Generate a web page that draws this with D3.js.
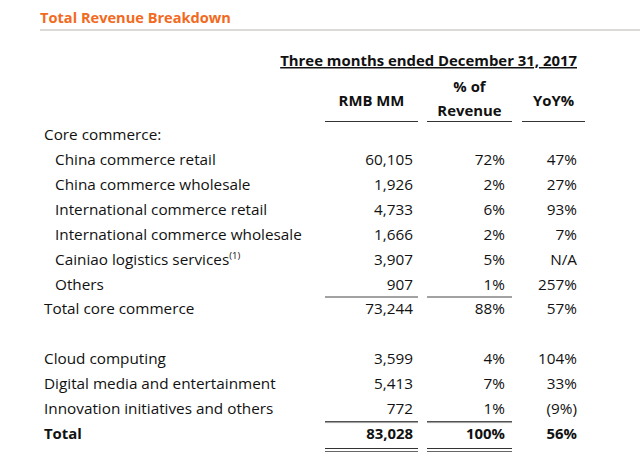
<!DOCTYPE html>
<html><head><meta charset="utf-8">
<script src="https://cdn.jsdelivr.net/npm/d3@7"></script>
<style>
html,body{margin:0;padding:0;background:#fff;}
svg{display:block;}
text{font-family:"Open Sans",Lato,sans-serif;fill:#111;}
</style></head>
<body>
<script>
const title = "Total Revenue Breakdown";
const periodLabel = "Three months ended December 31, 2017";
const rowLabels = ["Core commerce:","China commerce retail","China commerce wholesale","International commerce retail","International commerce wholesale","Cainiao logistics services","Others","Total core commerce","","Cloud computing","Digital media and entertainment","Innovation initiatives and others","Total"];
const rowIndent = [0,1,1,1,1,1,1,0,0,0,0,0,0];
const rmbValues = ["","60,105","1,926","4,733","1,666","3,907","907","73,244","","3,599","5,413","772","83,028"];
const pctValues = ["","72%","2%","6%","2%","5%","1%","88%","","4%","7%","1%","100%"];
const yoyValues = ["","47%","27%","93%","7%","N/A","257%","57%","","104%","33%","(9%)","56%"];

const W = 640, H = 466;
const svg = d3.select("body").append("svg").attr("width", W).attr("height", H);
const fs = 15.3, fsb = 14.9;

// title
svg.append("text").attr("x", 40).attr("y", 23).style("fill", "#f26a21")
  .attr("font-size", 14.6).attr("font-weight", "bold").text(title);
svg.append("rect").attr("x", 40).attr("y", 29).attr("width", 600).attr("height", 2).attr("fill", "#dcd9d6");

// period header
svg.append("text").attr("x", 577).attr("y", 66).attr("text-anchor", "end")
  .attr("font-size", fsb).attr("font-weight", "bold").attr("text-decoration", "underline")
  .text(periodLabel);

// column positions
const cols = [
  {key: "rmb", left: 325, right: 418, textRight: 413, vals: rmbValues, head: ["RMB MM"]},
  {key: "pct", left: 427, right: 512, textRight: 505, vals: pctValues, head: ["% of", "Revenue"]},
  {key: "yoy", left: 522, right: 585, textRight: 577, vals: yoyValues, head: ["YoY%"]}
];

cols.forEach(c => {
  const cx = (c.left + c.right) / 2;
  const t = svg.append("text").attr("text-anchor", "middle").attr("font-size", fsb).attr("font-weight", "bold");
  if (c.head.length === 1) {
    t.append("tspan").attr("x", cx).attr("y", 106).text(c.head[0]);
  } else {
    t.append("tspan").attr("x", cx).attr("y", 92).text(c.head[0]);
    t.append("tspan").attr("x", cx).attr("y", 116).text(c.head[1]);
  }
  svg.append("line").attr("x1", c.left).attr("x2", c.right).attr("y1", 121.5).attr("y2", 121.5)
    .attr("stroke", "#333").attr("stroke-width", 1);
});

const y = d3.scaleLinear().domain([0, rowLabels.length - 1]).range([140, 439]);
const lastIdx = rowLabels.length - 1;

const rows = svg.append("g").selectAll("g").data(rowLabels).join("g");
rows.append("text")
  .attr("x", (d, i) => rowIndent[i] ? 55 : 44)
  .attr("y", (d, i) => y(i))
  .attr("font-size", (d, i) => i === lastIdx ? fsb : fs)
  .attr("font-weight", (d, i) => i === lastIdx ? "bold" : "normal")
  .each(function(d, i) {
    const t = d3.select(this);
    t.append("tspan").text(d);
    if (d === "Cainiao logistics services") {
      t.append("tspan").attr("font-size", 9.5).attr("dy", -6).text("(1)");
    }
  });

cols.forEach(c => {
  svg.append("g").selectAll("text").data(c.vals).join("text")
    .attr("x", c.textRight).attr("y", (d, i) => y(i))
    .attr("text-anchor", "end")
    .attr("font-size", (d, i) => i === lastIdx ? fsb : fs)
    .attr("font-weight", (d, i) => i === lastIdx ? "bold" : "normal")
    .text(d => d);
});

// rules
const ruleCols = cols.slice(0, 2);
const othersIdx = rowLabels.indexOf("Others");
const innovIdx = rowLabels.indexOf("Innovation initiatives and others");
ruleCols.forEach(c => {
  const g = svg.append("g");
  g.append("line").attr("x1", c.left).attr("x2", c.right)
    .attr("y1", y(othersIdx) + 7.5).attr("y2", y(othersIdx) + 7.5).attr("stroke", "#444");
  g.append("line").attr("x1", c.left).attr("x2", c.right)
    .attr("y1", y(innovIdx) + 7.5).attr("y2", y(innovIdx) + 7.5).attr("stroke", "#444");
  g.append("line").attr("x1", c.left).attr("x2", c.right)
    .attr("y1", y(innovIdx) + 8.5).attr("y2", y(innovIdx) + 8.5).attr("stroke", "#999");
  g.append("line").attr("x1", c.left).attr("x2", c.right)
    .attr("y1", y(lastIdx) + 9.5).attr("y2", y(lastIdx) + 9.5).attr("stroke", "#333");
  g.append("line").attr("x1", c.left).attr("x2", c.right)
    .attr("y1", y(lastIdx) + 12.5).attr("y2", y(lastIdx) + 12.5).attr("stroke", "#666");
});
</script>
</body></html>
